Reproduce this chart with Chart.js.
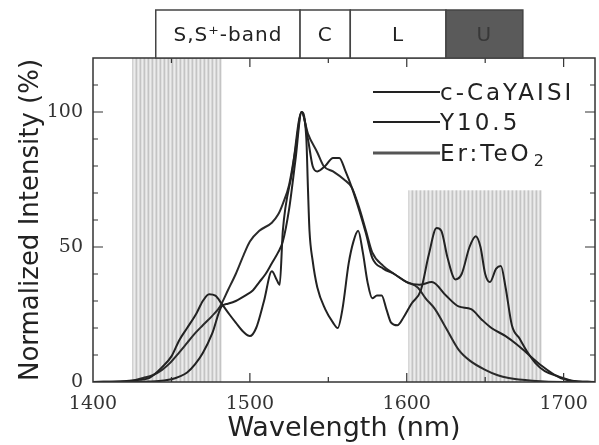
<!DOCTYPE html>
<html>
<head>
<meta charset="utf-8">
<script src="https://cdn.jsdelivr.net/npm/chart.js@4.4.1/dist/chart.umd.min.js"></script>
<style>
  html, body { margin: 0; padding: 0; background: #fff; }
</style>
</head>
<body>
<canvas id="graficoEspectro" width="599" height="445"></canvas>
<script>
// emission spectra, wavelength in nm / normalized intensity in %
const cayWave = [1400,1420,1430,1436,1444,1450,1455,1460,1466,1470,1474,1478,1482,1487,1491,1496,1500,1504,1509,1514,1517,1519,1521,1527,1533,1536,1537,1538,1540,1543,1548,1553,1556,1559,1563,1566,1569,1572,1575,1578,1581,1584,1587,1590,1594,1598,1603,1609,1614,1619,1622,1626,1631,1635,1640,1644,1647,1650,1653,1657,1660,1663,1667,1672,1677,1682,1688,1697,1705,1720];
const cayInt  = [0,0.3,0.8,1.5,5.5,9.5,15.5,20,25.5,30,32.5,32,29,25,22,18.5,17,20,30,41,38,36,56,78,100,90,72,56,45,35,27,22,20,27,44,52,56,48,37,31,32,32,27,22,21,24,29,34,47,57,56,46,38,40,50,54,50,40,37,42,43,35,21,16,11,7,4,2,0.5,0];

const yWave = [1400,1440,1450,1455,1460,1465,1470,1476,1482,1486,1491,1497,1502,1506,1510,1514,1518,1521,1525,1529,1533,1537,1540,1543,1548,1553,1557,1561,1565,1570,1574,1578,1585,1592,1600,1608,1616,1625,1633,1641,1648,1654,1663,1670,1676,1686,1692,1698,1705,1720];
const yInt  = [0,0.3,1,2,3.5,6.5,10.7,18,28,29,30,32,34,37,40,44,48,52,64,82,100,90,80,78,80,83,83,78,72,63,55,46,42,40,37,36,37,32,28,27,23,20,17,14,11,6,3.5,1.5,0.5,0];

const teoWave = [1400,1425,1432,1438,1444,1449,1455,1460,1465,1470,1476,1481,1486,1491,1496,1500,1506,1514,1518,1521,1525,1529,1533,1537,1543,1547,1553,1560,1565,1570,1574,1578,1585,1592,1600,1607,1612,1618,1625,1633,1640,1650,1658,1665,1680,1700,1720];
const teoInt  = [0,0.5,1.5,2.5,4.5,7,11,14.5,18,21,24.5,28,34,40,47,52,56,59,62,66,73,86,100,92,85,80,78,75,72,64,56,48,43,40,37,35,31,27,20,12,8,4.5,2.5,1.5,0.5,0,0];

const seriesNames = ['c-CaYAISI', 'Y10.5', 'Er:TeO'];

// telecom bands along the top (nm)
const bandEdges = [1440, 1532, 1564, 1625, 1674];
const bandNames = ['S,S\u207A-band', 'C', 'L', 'U'];

// striped ranges (nm, top in %)
const shadeFrom = [1425, 1601];
const shadeTo   = [1482, 1686];
const shadeTop  = [120, 71];

const xTicks = [1400, 1500, 1600, 1700];
const yTicks = [0, 50, 100];

const pares = (w, v) => w.map((x, i) => ({x: x, y: v[i]}));

function rayas(ctx) {
    const c = document.createElement('canvas');
    c.width = 4; c.height = 1;
    const g = c.getContext('2d');
    ['#c4c4c4', '#e0e0e0', '#ececec', '#d8d8d8'].forEach((col, i) => {
        g.fillStyle = col;
        g.fillRect(i, 0, 1, 1);
    });
    return ctx.createPattern(c, 'repeat');
}

const decor = {
    id: 'decor',
    beforeDatasetsDraw(chart) {
        const {ctx, scales: {x, y}} = chart;
        ctx.save();
        ctx.fillStyle = rayas(ctx);
        shadeFrom.forEach((a, i) => {
            const l = x.getPixelForValue(a), r = x.getPixelForValue(shadeTo[i]);
            const t = y.getPixelForValue(shadeTop[i]), b = y.getPixelForValue(0);
            ctx.fillRect(l, t, r - l, b - t);
        });
        ctx.restore();
    },
    afterDraw(chart) {
        const {ctx, chartArea: ca, scales: {x, y}} = chart;
        ctx.save();
        ctx.strokeStyle = '#333';
        ctx.lineWidth = 1.5;
        ctx.strokeRect(ca.left, ca.top, ca.right - ca.left, ca.bottom - ca.top);

        // inward ticks on all four sides
        ctx.lineWidth = 1.2;
        ctx.beginPath();
        for (let v = 1450; v <= 1700; v += 50) {
            const px = x.getPixelForValue(v), len = v % 100 === 0 ? 9 : 5;
            ctx.moveTo(px, ca.bottom); ctx.lineTo(px, ca.bottom - len);
            ctx.moveTo(px, ca.top); ctx.lineTo(px, ca.top + len);
        }
        for (let v = 10; v <= 110; v += 10) {
            const py = y.getPixelForValue(v), len = v % 50 === 0 ? 10 : 5;
            ctx.moveTo(ca.left, py); ctx.lineTo(ca.left + len, py);
            ctx.moveTo(ca.right, py); ctx.lineTo(ca.right - len, py);
        }
        ctx.stroke();

        // band boxes
        ctx.font = '20px "DejaVu Sans"';
        ctx.letterSpacing = '1px';
        ctx.textAlign = 'center';
        ctx.textBaseline = 'middle';
        for (let i = 0; i < bandNames.length; i++) {
            const l = x.getPixelForValue(bandEdges[i]), r = x.getPixelForValue(bandEdges[i + 1]);
            const t = 10, b = ca.top;
            ctx.fillStyle = i === 3 ? '#5a5a5a' : '#fff';
            ctx.fillRect(l, t, r - l, b - t);
            ctx.strokeStyle = '#444';
            ctx.lineWidth = 1.5;
            ctx.strokeRect(l, t, r - l, b - t);
            ctx.fillStyle = i === 3 ? '#383838' : '#222';
            ctx.fillText(bandNames[i], (l + r) / 2, (t + b) / 2 + 2);
        }

        // legend
        const ly = [92, 122, 153];
        const lc = ['#222', '#222', '#555'];
        const lw = [2, 2, 3];
        ctx.textAlign = 'left';
        ctx.font = '23px "DejaVu Sans"';
        ctx.letterSpacing = '3px';
        ly.forEach((yy, i) => {
            ctx.strokeStyle = lc[i];
            ctx.lineWidth = lw[i];
            ctx.beginPath();
            ctx.moveTo(373, yy); ctx.lineTo(440, yy);
            ctx.stroke();
            ctx.fillStyle = '#222';
            ctx.fillText(seriesNames[i], 440, yy + 2);
        });
        const w = ctx.measureText(seriesNames[2]).width;
        ctx.font = '16px "DejaVu Sans"';
        ctx.fillText('2', 440 + w + 2, ly[2] + 9);
        ctx.restore();
    }
};

const linea = (label, data, color) => ({
    label: label,
    data: data,
    borderColor: color,
    borderWidth: 2,
    pointRadius: 0,
    fill: false,
    cubicInterpolationMode: 'monotone'
});

const ctxEspectro = document.getElementById('graficoEspectro');

new Chart(ctxEspectro, {
    type: 'line',
    data: {
        datasets: [
            linea(seriesNames[0], pares(cayWave, cayInt), '#222'),
            linea('Y10.5', pares(yWave, yInt), '#222'),
            linea('Er:TeO2', pares(teoWave, teoInt), '#2a2a2a')
        ]
    },
    options: {
        responsive: false,
        animation: false,
        layout: { padding: { top: 58, right: 3, left: 0, bottom: 0 } },
        scales: {
            x: {
                type: 'linear',
                min: 1400,
                max: 1720,
                afterBuildTicks: s => { s.ticks = xTicks.map(v => ({value: v})); },
                afterFit: s => { s.height = 63; },
                grid: { display: false, drawTicks: false },
                border: { display: false },
                ticks: {
                    font: { family: 'DejaVu Serif', size: 19 },
                    color: '#333',
                    padding: 11,
                    maxRotation: 0,
                    autoSkip: false,
                    callback: v => String(v)
                },
                title: {
                    display: true,
                    text: 'Wavelength (nm)',
                    font: { family: 'DejaVu Sans', size: 27 },
                    color: '#222',
                    padding: { top: 4, bottom: 0 }
                }
            },
            y: {
                min: 0,
                max: 120,
                afterBuildTicks: s => { s.ticks = yTicks.map(v => ({value: v})); },
                afterFit: s => { s.width = 93; },
                grid: { display: false, drawTicks: false },
                border: { display: false },
                ticks: {
                    font: { family: 'DejaVu Serif', size: 19 },
                    color: '#333',
                    padding: 10,
                    callback: v => String(v)
                },
                title: {
                    display: true,
                    text: 'Normalized Intensity (%)',
                    font: { family: 'DejaVu Sans', size: 26 },
                    color: '#222',
                    padding: { top: 16, bottom: 0 }
                }
            }
        },
        plugins: {
            legend: { display: false },
            tooltip: { enabled: false }
        }
    },
    plugins: [decor]
});
</script>
</body>
</html>
